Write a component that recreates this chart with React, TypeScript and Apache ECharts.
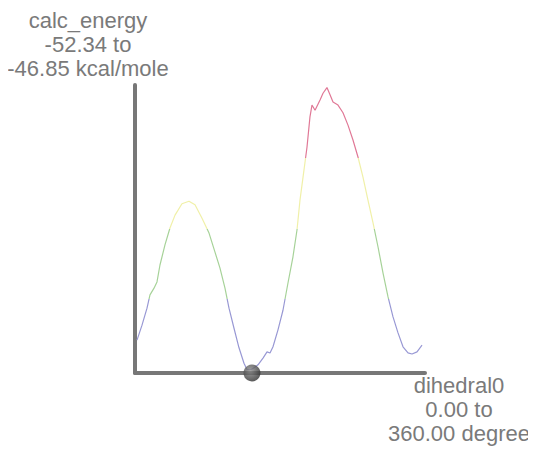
import React, { useEffect, useRef } from "react";
import * as echarts from "echarts";

const dihedral: number[] = [
  2.5, 8.7, 14.9, 18.6, 23.6, 27.3, 31.0, 37.2, 43.4, 49.7, 58.3, 67.0, 74.5, 83.2, 91.9, 99.3,
  105.5, 111.7, 116.7, 122.9, 129.1, 135.3, 139.0, 142.8, 147.7, 152.7, 158.9, 163.9, 167.6, 171.3,
  177.5, 183.7, 189.9, 196.1, 201.1, 204.8, 208.6, 213.5, 217.2, 219.7, 223.5, 229.7, 233.4, 238.3,
  242.1, 245.8, 252.0, 258.2, 264.4, 270.6, 276.8, 283.0, 289.2, 295.5, 301.7, 307.9, 314.1, 320.3,
  326.5, 332.7, 338.9, 343.9, 350.1, 356.3,
];
const energy: number[] = [
  -51.76, -51.47, -51.14, -50.88, -50.75, -50.63, -50.3, -49.91, -49.58, -49.33, -49.11, -49.06,
  -49.13, -49.39, -49.68, -50.05, -50.36, -50.75, -51.14, -51.53, -51.91, -52.21, -52.33, -52.34,
  -52.3, -52.24, -52.11, -51.99, -52.01, -51.89, -51.56, -51.18, -50.65, -50.14, -49.62, -49.04,
  -48.59, -48.01, -47.42, -47.19, -47.29, -47.09, -46.96, -46.85, -46.99, -47.13, -47.19, -47.34,
  -47.58, -47.87, -48.2, -48.59, -49.04, -49.48, -49.95, -50.46, -50.92, -51.31, -51.62, -51.89,
  -52.01, -52.03, -51.99, -51.86,
];
const currentDihedral = 145.2;
const yLabelLines = ["calc_energy", "-52.34 to", "-46.85 kcal/mole"];
const xLabelLines = ["dihedral0", "0.00 to", "360.00 degree"];
const bandEdges = [-52.34, -50.97, -49.6, -48.22, -46.85];
const bandColors = ["#9898d4", "#a6d298", "#f0f0a8", "#e07896"];

export default function App() {
  const ref = useRef<HTMLDivElement>(null);
  useEffect(() => {
    if (!ref.current) return;
    const chart = echarts.init(ref.current, undefined, { renderer: "svg" });
    const textStyle = { fontFamily: "Liberation Sans", fontSize: 22, fill: "#7a7a7a", textAlign: "center", textVerticalAlign: "middle" };
    chart.setOption({
      animation: false,
      grid: { left: 127, top: 77, width: 290, height: 288 },
      xAxis: {
        type: "value", min: 0, max: 360,
        axisLine: { lineStyle: { color: "#777", width: 4 } },
        axisTick: { show: false }, axisLabel: { show: false }, splitLine: { show: false },
      },
      yAxis: {
        type: "value", min: -52.4, max: -46.8,
        axisLine: { show: true, lineStyle: { color: "#777", width: 4 } },
        axisTick: { show: false }, axisLabel: { show: false }, splitLine: { show: false },
      },
      visualMap: {
        type: "piecewise", show: false, dimension: 1, seriesIndex: 0,
        pieces: bandColors.map((c, i) => ({ gte: bandEdges[i], lt: i === 3 ? 0 : bandEdges[i + 1], color: c })),
      },
      series: [
        {
          type: "line",
          data: dihedral.map((d, i) => [d, energy[i]]),
          showSymbol: false,
          lineStyle: { width: 1.2 },
        },
        {
          type: "scatter",
          data: [[currentDihedral, -52.4]],
          symbolSize: 17,
          clip: false,
          z: 5,
          itemStyle: {
            color: new echarts.graphic.RadialGradient(0.4, 0.35, 0.7, [
              { offset: 0, color: "#8a8a8a" },
              { offset: 1, color: "#2a2a2a" },
            ]),
          },
        },
      ],
      graphic: [
        ...yLabelLines.map((t, i) => ({ type: "text", x: 80, y: 12 + i * 24, style: { ...textStyle, text: t } })),
        ...xLabelLines.map((t, i) => ({ type: "text", x: 451, y: 377 + i * 24, style: { ...textStyle, text: t } })),
      ],
    });
    return () => chart.dispose();
  }, []);
  return <div ref={ref} style={{ width: 528, height: 443 }} />;
}
